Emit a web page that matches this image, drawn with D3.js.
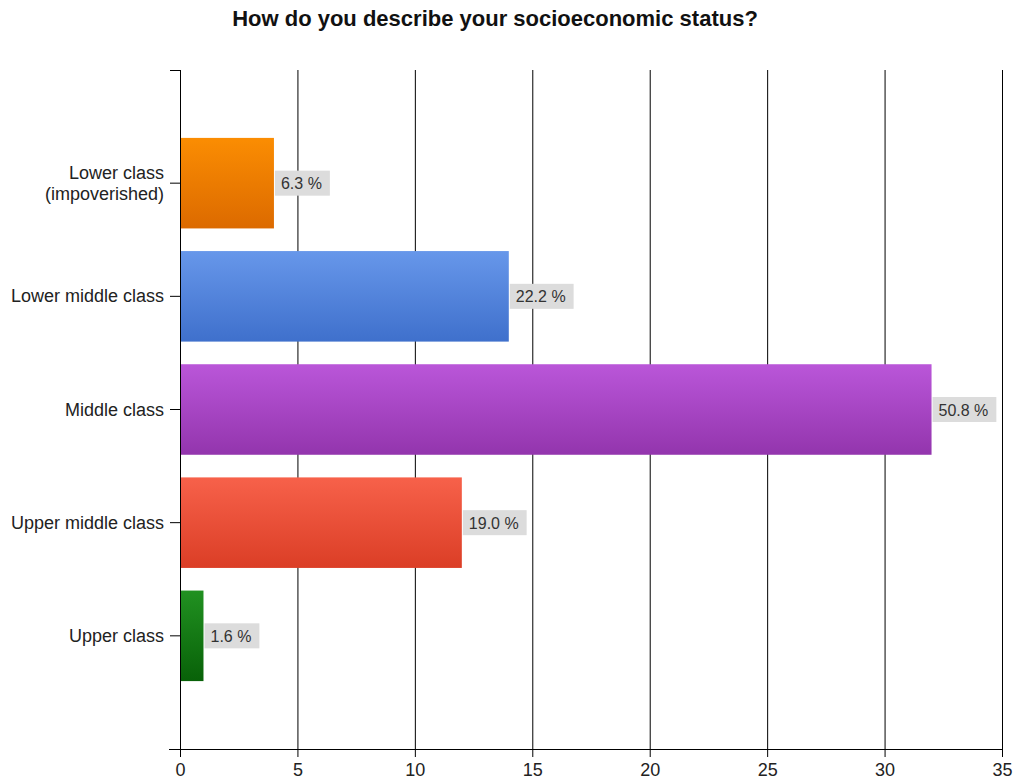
<!DOCTYPE html>
<html>
<head>
<meta charset="utf-8">
<script src="https://cdn.jsdelivr.net/npm/d3@7"></script>
<style>
html,body{margin:0;padding:0;background:#fff;}
svg{display:block;}
text{font-family:"Liberation Sans",Arial,sans-serif;}
</style>
</head>
<body>
<svg id="chart" width="1018" height="784"></svg>
<script>
const categories = ["Lower class\n(impoverished)", "Lower middle class", "Middle class", "Upper middle class", "Upper class"];
const counts = [4, 14, 32, 12, 1];
const percentLabels = ["6.3 %", "22.2 %", "50.8 %", "19.0 %", "1.6 %"];
const xTicks = [0, 5, 10, 15, 20, 25, 30, 35];
const barTopColors = ["#fb8d02", "#6797ea", "#ba56d9", "#f7614a", "#219121"];
const barBottomColors = ["#dc6a00", "#3f70cc", "#9335ad", "#db3e26", "#086108"];
const chartTitle = "How do you describe your socioeconomic status?";

const svg = d3.select("#chart");
const pLeft = 180, pRight = 1002, pTop = 70, pBottom = 749;

const x = d3.scaleLinear().domain([0, 35]).range([pLeft, pRight]);
const y = d3.scaleBand().domain(categories).range([pTop, pBottom]).paddingInner(0.2).paddingOuter(0.6);

// gradients
const defs = svg.append("defs");
categories.forEach((c, i) => {
  const g = defs.append("linearGradient").attr("id", "g" + i).attr("x1", 0).attr("y1", 0).attr("x2", 0).attr("y2", 1);
  g.append("stop").attr("offset", "0%").attr("stop-color", barTopColors[i]);
  g.append("stop").attr("offset", "100%").attr("stop-color", barBottomColors[i]);
});

// title
svg.append("text").attr("x", 495).attr("y", 26).attr("text-anchor", "middle")
  .attr("font-size", 22).attr("font-weight", "bold").attr("fill", "#111").text(chartTitle);

// vertical gridlines via axis
const xAxis = d3.axisBottom(x).tickValues(xTicks).tickFormat(d3.format("d"));
const gx = svg.append("g").attr("transform", `translate(0,${pBottom})`).call(xAxis);
gx.select(".domain").remove();
gx.selectAll(".tick line").attr("stroke", "#000").attr("y2", -(pBottom - pTop)).attr("y1", 8);
gx.selectAll(".tick text").attr("y", 14).attr("dy", "0.71em").attr("font-size", 18).attr("fill", "#222").attr("font-family", "Liberation Sans, Arial, sans-serif");

// bottom axis line
svg.append("line").attr("x1", pLeft - 11).attr("x2", pRight).attr("y1", pBottom + 0.5).attr("y2", pBottom + 0.5).attr("stroke", "#000");

// left axis
const yAxis = d3.axisLeft(y).tickSize(10).tickFormat("");
const gy = svg.append("g").attr("transform", `translate(${pLeft},0)`).call(yAxis);
gy.select(".domain").attr("stroke", "#000").attr("d", `M-10,${pTop + 0.5}H0.5V${pBottom}`);
gy.selectAll(".tick line").attr("stroke", "#000");

// y labels
const ylab = svg.append("g");
categories.forEach((c, i) => {
  const lines = c.split("\n");
  const cy = y(c) + y.bandwidth() / 2;
  const t = ylab.append("text").attr("x", pLeft - 16).attr("text-anchor", "end")
    .attr("font-size", 18).attr("fill", "#222");
  lines.forEach((ln, j) => {
    t.append("tspan").attr("x", pLeft - 16)
      .attr("y", cy + 6 + (j - (lines.length - 1) / 2) * 21).text(ln);
  });
});

// bars
svg.append("g").selectAll("rect").data(counts).join("rect")
  .attr("x", x(0) + 1)
  .attr("y", (d, i) => y(categories[i]))
  .attr("width", d => x(d) - x(0) - 1)
  .attr("height", y.bandwidth())
  .attr("fill", (d, i) => `url(#g${i})`);

// value labels
const lab = svg.append("g");
counts.forEach((d, i) => {
  const cy = y(categories[i]) + y.bandwidth() / 2;
  const g = lab.append("g");
  const t = g.append("text").attr("x", x(d) + 7).attr("y", cy + 6)
    .attr("font-size", 16).attr("fill", "#333").text(percentLabels[i]);
  const w = t.node().getComputedTextLength();
  g.insert("rect", "text").attr("x", x(d) + 1).attr("y", cy - 12.5)
    .attr("width", w + 14).attr("height", 25).attr("fill", "#dcdcdc");
});
</script>
</body>
</html>
